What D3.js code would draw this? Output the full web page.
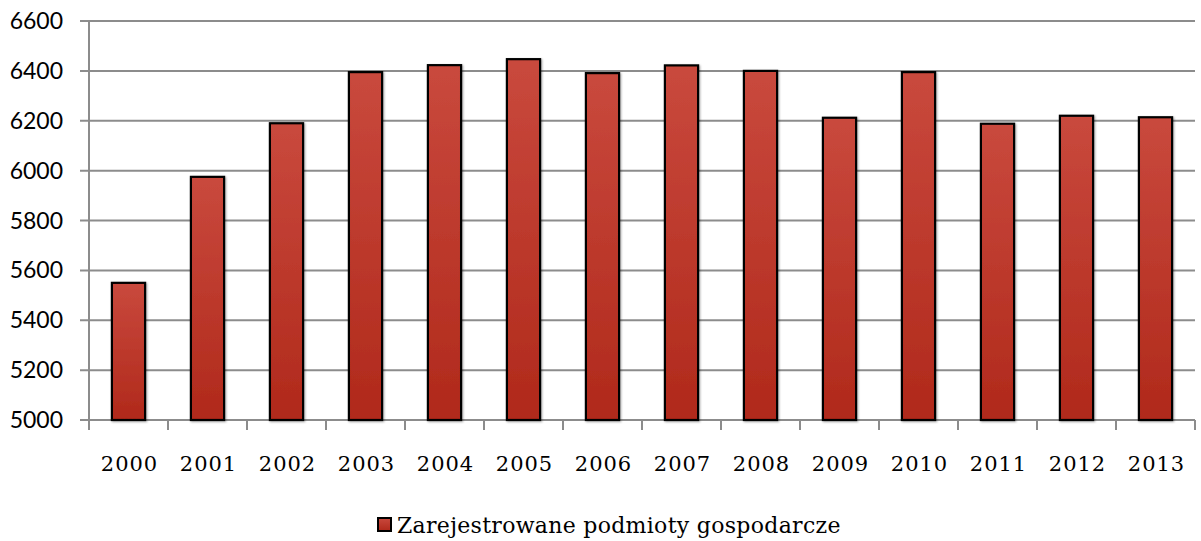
<!DOCTYPE html>
<html>
<head>
<meta charset="utf-8">
<script src="https://cdn.jsdelivr.net/npm/d3@7"></script>
<style>
body { margin: 0; background: #fff; }
</style>
</head>
<body>
<div id="chart"></div>
<script>
var years = ["2000", "2001", "2002", "2003", "2004", "2005", "2006", "2007", "2008", "2009", "2010", "2011", "2012", "2013"];
var values = [5550, 5975, 6190, 6395, 6423, 6447, 6391, 6422, 6400, 6212, 6395, 6188, 6220, 6214];
var yTicks = [5000, 5200, 5400, 5600, 5800, 6000, 6200, 6400, 6600];
var seriesName = "Zarejestrowane podmioty gospodarcze";

var width = 1201, height = 541;
var plotLeft = 89, plotRight = 1195, plotTop = 21, plotBottom = 420;

var svg = d3.select("#chart").append("svg")
    .attr("width", width)
    .attr("height", height);

// gradient for the bars
var defs = svg.append("defs");
var grad = defs.append("linearGradient")
    .attr("id", "barGrad")
    .attr("x1", 0).attr("y1", 0).attr("x2", 0).attr("y2", 1);
grad.append("stop").attr("offset", "0%").attr("stop-color", "#c9493d");
grad.append("stop").attr("offset", "100%").attr("stop-color", "#b0291b");

var shadow = defs.append("filter").attr("id", "shadow")
    .attr("x", "-20%").attr("y", "-20%").attr("width", "140%").attr("height", "140%");
shadow.append("feDropShadow")
    .attr("dx", 1).attr("dy", 1).attr("stdDeviation", 1.2)
    .attr("flood-color", "#000").attr("flood-opacity", 0.35);

var x = d3.scaleBand().domain(years).range([plotLeft, plotRight]).paddingInner(0.58).paddingOuter(0.29);
var y = d3.scaleLinear().domain([5000, 6600]).range([plotBottom, plotTop]);

// gridlines
svg.append("g").selectAll("line")
    .data(yTicks)
    .enter()
    .append("line")
    .attr("x1", plotLeft - 9)
    .attr("x2", plotRight)
    .attr("y1", function (d) { return y(d); })
    .attr("y2", function (d) { return y(d); })
    .style("stroke", "#8c8c8c")
    .style("stroke-width", 2);

// y axis line
svg.append("line")
    .attr("x1", plotLeft).attr("x2", plotLeft)
    .attr("y1", y(6600)).attr("y2", plotBottom + 10)
    .style("stroke", "#8c8c8c")
    .style("stroke-width", 2);

// x axis ticks
var xTickPos = years.map(function (d, i) { return plotLeft + i * (plotRight - plotLeft) / years.length; });
xTickPos.push(plotRight);
svg.append("g").selectAll("line")
    .data(xTickPos)
    .enter()
    .append("line")
    .attr("x1", function (d) { return d; })
    .attr("x2", function (d) { return d; })
    .attr("y1", plotBottom)
    .attr("y2", plotBottom + 10)
    .style("stroke", "#8c8c8c")
    .style("stroke-width", 2);

// bars
svg.append("g").selectAll("rect")
    .data(values)
    .enter()
    .append("rect")
    .attr("x", function (d, i) { return x(years[i]); })
    .attr("y", function (d) { return y(d); })
    .attr("width", x.bandwidth())
    .attr("height", function (d) { return plotBottom - y(d); })
    .style("fill", "url(#barGrad)")
    .style("stroke", "#000")
    .style("stroke-width", 2.2)
    .attr("filter", "url(#shadow)");

// y tick labels
svg.append("g").selectAll("text")
    .data(yTicks)
    .enter()
    .append("text")
    .attr("x", 63)
    .attr("y", function (d) { return y(d); })
    .attr("dy", "0.35em")
    .attr("text-anchor", "end")
    .style("font-family", "Lato, 'Open Sans', sans-serif")
    .style("font-size", "23px")
    .style("fill", "#000")
    .text(function (d) { return d; });

// x tick labels
svg.append("g").selectAll("text")
    .data(years)
    .enter()
    .append("text")
    .attr("x", function (d) { return x(d) + x.bandwidth() / 2 + 1; })
    .attr("y", 471)
    .attr("text-anchor", "middle")
    .style("font-family", "'DejaVu Serif', serif")
    .style("font-size", "21px")
    .style("letter-spacing", "1px")
    .style("fill", "#000")
    .text(function (d) { return d; });

// legend
var legend = svg.append("g").attr("transform", "translate(378,518)");
legend.append("rect")
    .attr("width", 13)
    .attr("height", 13)
    .style("fill", "url(#barGrad)")
    .style("stroke", "#000")
    .style("stroke-width", 2);
legend.append("text")
    .attr("x", 19)
    .attr("y", 15)
    .style("font-family", "'DejaVu Serif', serif")
    .style("font-size", "22px")
    .style("letter-spacing", "0.3px")
    .style("fill", "#000")
    .text(seriesName);
</script>
</body>
</html>
